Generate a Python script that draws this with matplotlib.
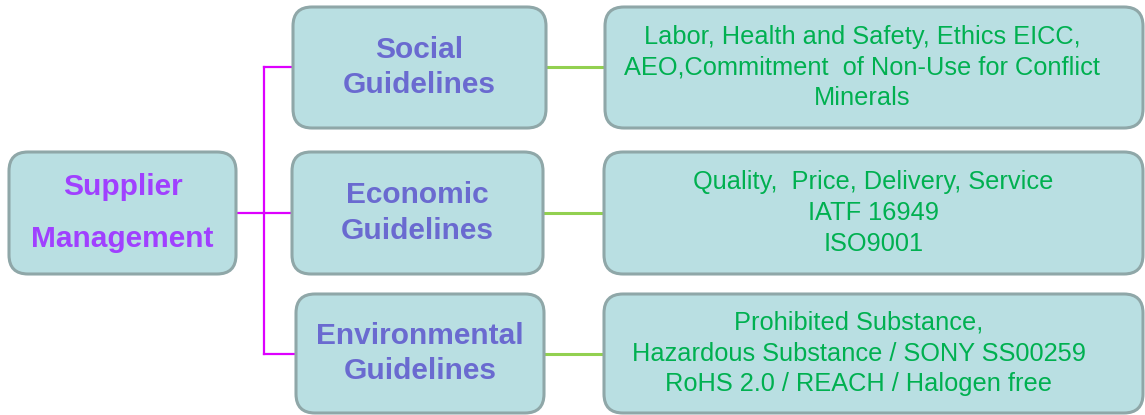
import matplotlib
matplotlib.use("Agg")
import matplotlib.pyplot as plt
from matplotlib.patches import FancyBboxPatch

# ---- content ----
root_label = "Supplier\nManagement"
category_labels = ["Social\nGuidelines", "Economic\nGuidelines", "Environmental\nGuidelines"]
detail_labels = [
    "Labor, Health and Safety, Ethics EICC,\nAEO,Commitment  of Non-Use for Conflict\nMinerals",
    "Quality,  Price, Delivery, Service\nIATF 16949\nISO9001",
    "Prohibited Substance,\nHazardous Substance / SONY SS00259\nRoHS 2.0 / REACH / Halogen free",
]

# ---- layout (pixel coordinates) ----
W, H = 1145, 415
root_box = (9, 152, 236, 274)              # x0, y0, x1, y1
cat_boxes = [(293, 7, 546, 128), (292, 152, 543, 274), (296, 294, 544, 413)]
det_boxes = [(605, 7, 1143, 128), (604, 152, 1143, 274), (604, 294, 1143, 413)]
det_text_dx = [-12, 0, -15]
trunk_x = 264

fill = "#B9DFE2"
edge = "#8FA7A8"
magenta = "#DD00FF"
green_line = "#92D050"
root_color = "#A040FF"
cat_color = "#6A6AD0"
det_color = "#00B050"
font = "Liberation Sans"

fig = plt.figure(figsize=(W / 100, H / 100), dpi=100)
ax = fig.add_axes([0, 0, 1, 1])
ax.set_xlim(0, W)
ax.set_ylim(H, 0)
ax.axis("off")


def box(b):
    x0, y0, x1, y1 = b
    p = FancyBboxPatch((x0, y0), x1 - x0, y1 - y0,
                       boxstyle="round,pad=0,rounding_size=19",
                       facecolor=fill, edgecolor=edge, linewidth=2.2, zorder=2)
    ax.add_patch(p)


def cy(b):
    return (b[1] + b[3]) / 2


def cx(b):
    return (b[0] + b[2]) / 2


# connectors
ax.plot([root_box[2], trunk_x], [cy(root_box)] * 2, color=magenta, lw=1.6, zorder=1)
ax.plot([trunk_x, trunk_x], [cy(cat_boxes[0]), cy(cat_boxes[2])], color=magenta, lw=1.6, zorder=1)
for cb, db in zip(cat_boxes, det_boxes):
    ax.plot([trunk_x, cb[0]], [cy(cb)] * 2, color=magenta, lw=1.6, zorder=1)
    ax.plot([cb[2], db[0]], [cy(cb)] * 2, color=green_line, lw=2.2, zorder=1)

# boxes
box(root_box)
for b in cat_boxes + det_boxes:
    box(b)

# texts
ax.text(cx(root_box), cy(root_box), root_label, ha="center", va="center",
        fontsize=21.5, fontweight="bold", color=root_color, family=font,
        linespacing=2.1, zorder=3)
for b, lab in zip(cat_boxes, category_labels):
    ax.text(cx(b), cy(b), lab, ha="center", va="center",
            fontsize=21.5, fontweight="bold", color=cat_color, family=font,
            linespacing=1.32, zorder=3)
for b, lab, dx in zip(det_boxes, detail_labels, det_text_dx):
    ax.text(cx(b) + dx, cy(b), lab, ha="center", va="center",
            fontsize=18.3, color=det_color, family=font,
            linespacing=1.36, zorder=3)

fig.savefig("out.png", dpi=100, facecolor="white")
